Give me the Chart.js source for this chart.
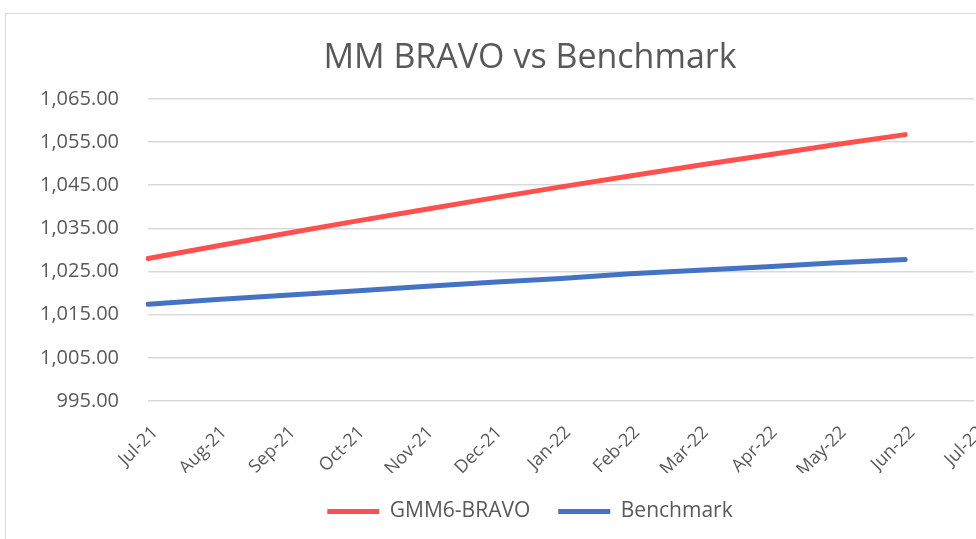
<!DOCTYPE html>
<html lang="en">
<head>
    <meta charset="UTF-8">
    <title>MM BRAVO vs Benchmark</title>
    <style>
        body {
            margin: 0;
            background-color: #fff;
            overflow: hidden;
        }

        .frame {
            position: absolute;
            left: 5px;
            top: 13px;
            width: 1100px;
            height: 600px;
            border: 1px solid #d9d9d9;
        }

        #chart-container {
            width: 1043px;
            height: 526px;
        }
    </style>
    <script src="https://cdn.jsdelivr.net/npm/chart.js"></script>
</head>
<body>
    <div class="frame">
        <div id="chart-container">
            <canvas id="bravo-chart"></canvas>
        </div>
    </div>
    <script>
        // month labels on the x axis (last one has no data)
        const months = ['Jul-21', 'Aug-21', 'Sep-21', 'Oct-21', 'Nov-21', 'Dec-21',
                        'Jan-22', 'Feb-22', 'Mar-22', 'Apr-22', 'May-22', 'Jun-22', 'Jul-22'];

        // values
        const bravo = [1028.0, 1030.9, 1033.8, 1036.6, 1039.3, 1042.0,
                       1044.6, 1047.1, 1049.6, 1052.0, 1054.4, 1056.7];
        const benchmark = [1017.4, 1018.5, 1019.5, 1020.5, 1021.5, 1022.5,
                           1023.4, 1024.5, 1025.3, 1026.1, 1027.0, 1027.8];

        const yMin = 995;
        const yMax = 1065;
        const yStep = 10;

        const grey = '#595959';
        const fontName = '"Open Sans", sans-serif';

        const ctx = document.getElementById('bravo-chart').getContext('2d');
        new Chart(ctx, {
            type: 'line',
            data: {
                labels: months,
                datasets: [{
                    label: 'GMM6-BRAVO',
                    data: bravo,
                    borderColor: '#ff5050',
                    backgroundColor: '#ff5050',
                    borderWidth: 5,
                    borderCapStyle: 'round',
                    pointRadius: 0,
                    tension: 0
                }, {
                    label: 'Benchmark',
                    data: benchmark,
                    borderColor: '#4472c4',
                    backgroundColor: '#4472c4',
                    borderWidth: 5,
                    borderCapStyle: 'round',
                    pointRadius: 0,
                    tension: 0
                }]
            },
            options: {
                responsive: true,
                maintainAspectRatio: false,
                animation: false,
                layout: {
                    padding: { left: 5, right: 0, top: 0, bottom: 8 }
                },
                plugins: {
                    title: {
                        display: true,
                        text: 'MM BRAVO vs Benchmark',
                        color: grey,
                        font: { family: fontName, size: 34, weight: 'normal' },
                        padding: { top: 24, bottom: 20 }
                    },
                    legend: {
                        position: 'bottom',
                        labels: {
                            color: grey,
                            font: { family: fontName, size: 21 },
                            boxWidth: 52,
                            boxHeight: 5,
                            padding: 28,
                            generateLabels: function(chart) {
                                const items = Chart.defaults.plugins.legend.labels.generateLabels(chart);
                                items.forEach(function(item) {
                                    item.lineWidth = 0;
                                });
                                return items;
                            }
                        }
                    },
                    tooltip: { enabled: false }
                },
                scales: {
                    x: {
                        offset: false,
                        grid: { display: false, drawTicks: false },
                        border: { display: false },
                        ticks: {
                            color: grey,
                            font: { family: fontName, size: 18 },
                            minRotation: 45,
                            maxRotation: 45,
                            autoSkip: false,
                            padding: 21,
                            labelOffset: 7
                        },
                        // the Excel plot runs past the visible frame on the right
                        afterFit: function(scale) {
                            scale.height = 72;
                            scale.paddingRight = 75;
                        }
                    },
                    y: {
                        min: yMin,
                        max: yMax,
                        grid: { color: '#d9d9d9', lineWidth: 1.5, drawTicks: false },
                        border: { display: false },
                        ticks: {
                            stepSize: yStep,
                            color: grey,
                            padding: 29,
                            font: { family: fontName, size: 20 },
                            callback: function(value) {
                                return value.toLocaleString('en-US', { minimumFractionDigits: 2, maximumFractionDigits: 2 });
                            }
                        }
                    }
                }
            }
        });
    </script>
</body>
</html>
